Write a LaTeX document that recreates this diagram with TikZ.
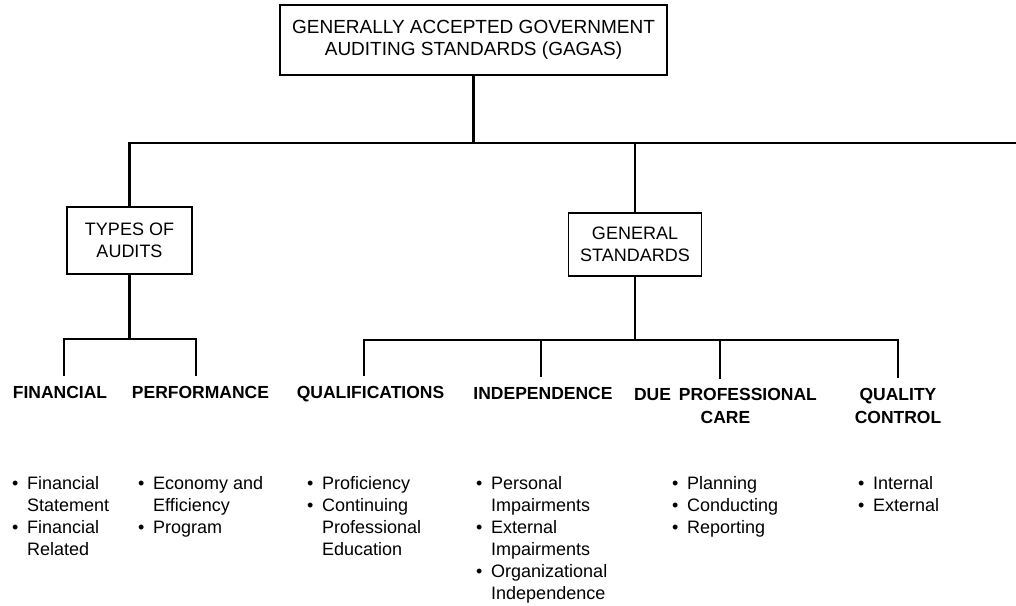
\documentclass[tikz,border=0pt]{standalone}
\usepackage{fontspec}
\setmainfont{Liberation Sans}
\newcommand\bitem[1]{\makebox[15pt][l]{\textbullet}#1}
\newcommand\bcont[1]{\hspace*{15pt}#1}
\begin{document}
\begin{tikzpicture}[x=1pt,y=-1pt,
  conn/.style={line width=2.7pt, line join=miter},
  boxnode/.style={draw, line width=1.6pt, align=center, inner sep=0,
    font=\fontsize{18}{22}\selectfont},
  lab/.style={anchor=base, inner sep=0, font=\fontsize{17.5}{23}\selectfont\bfseries},
  lst/.style={anchor=base west, inner sep=0, font=\fontsize{18}{22}\selectfont}]
\useasboundingbox (0,0) rectangle (1016,605);

% boxes
\node[boxnode, minimum width=387pt, minimum height=70pt,
  font=\fontsize{19}{22}\selectfont] (top) at (473.5,40)
  {GENERALLY ACCEPTED GOVERNMENT\\AUDITING STANDARDS (GAGAS)};
\node[boxnode, minimum width=125pt, minimum height=67pt] (types) at (129.5,240.5)
  {TYPES OF\\AUDITS};
\node[boxnode, minimum width=133pt, minimum height=63pt] (gen) at (635,244.5)
  {GENERAL\\STANDARDS};

% top level connectors
\coordinate (hR) at (1016,143);
\draw[conn] (types.north) |- (hR);
\draw[conn] (top.south) -- (top.south |- hR);
\draw[conn] (gen.north) -- (gen.north |- hR);

% labels
\node[lab] (fin)  at (60,398)    {FINANCIAL};
\node[lab] (perf) at (200.5,398) {PERFORMANCE};
\node[lab] (qual) at (370.5,398) {QUALIFICATIONS};
\node[lab] (ind)  at (543,399)   {INDEPENDENCE};
\node[lab] (dpc)  at (725.5,400) {\begin{tabular}[t]{@{}c@{}}DUE\hspace{0.45em}PROFESSIONAL\\CARE\end{tabular}};
\node[lab] (qc)   at (898,400)   {\begin{tabular}[t]{@{}c@{}}QUALITY\\CONTROL\end{tabular}};

% lower left connectors
\coordinate (b1) at (129.5,339);
\coordinate (fe) at (64,376);
\coordinate (pe) at (196,376);
\draw[conn] (types.south) -- (types.south |- b1);
\draw[conn] (fe) |- (pe |- b1) -- (pe);

% lower right connectors
\coordinate (b2) at (635,340);
\coordinate (qe) at (364,376);
\coordinate (ie) at (541,377);
\coordinate (de) at (720,379);
\coordinate (ce) at (898,378);
\draw[conn] (gen.south) -- (gen.south |- b2);
\draw[conn] (qe) |- (ce |- b2) -- (ce);
\draw[conn] (ie) -- (ie |- b2);
\draw[conn] (de) -- (de |- b2);

% bullet lists
\node[lst] (l1) at (12,489) {\begin{tabular}[t]{@{}l@{}}
  \bitem{Financial}\\ \bcont{Statement}\\ \bitem{Financial}\\ \bcont{Related}\end{tabular}};
\node[lst] (l2) at (138,489) {\begin{tabular}[t]{@{}l@{}}
  \bitem{Economy and}\\ \bcont{Efficiency}\\ \bitem{Program}\end{tabular}};
\node[lst] (l3) at (307,489) {\begin{tabular}[t]{@{}l@{}}
  \bitem{Proficiency}\\ \bitem{Continuing}\\ \bcont{Professional}\\ \bcont{Education}\end{tabular}};
\node[lst] (l4) at (476,489) {\begin{tabular}[t]{@{}l@{}}
  \bitem{Personal}\\ \bcont{Impairments}\\ \bitem{External}\\ \bcont{Impairments}\\
  \bitem{Organizational}\\ \bcont{Independence}\end{tabular}};
\node[lst] (l5) at (672,489) {\begin{tabular}[t]{@{}l@{}}
  \bitem{Planning}\\ \bitem{Conducting}\\ \bitem{Reporting}\end{tabular}};
\node[lst] (l6) at (858,489) {\begin{tabular}[t]{@{}l@{}}
  \bitem{Internal}\\ \bitem{External}\end{tabular}};
\end{tikzpicture}
\end{document}
